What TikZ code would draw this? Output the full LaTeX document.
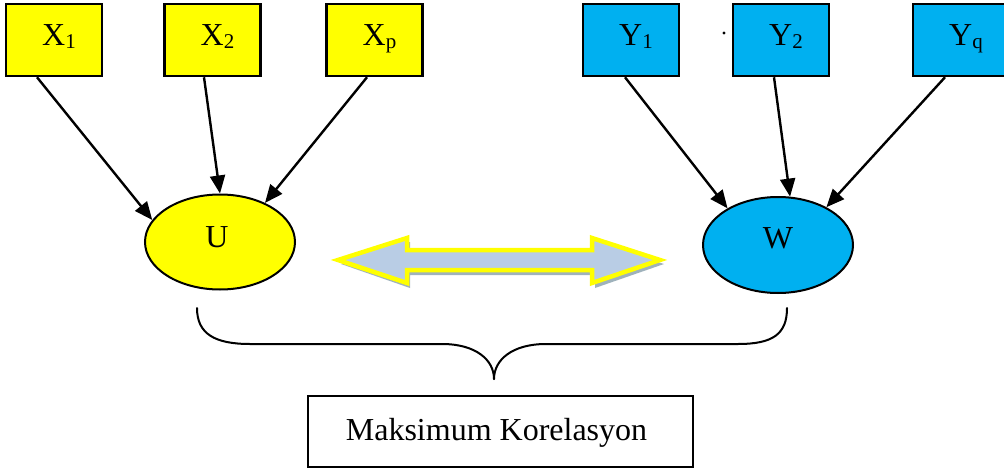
\documentclass[tikz,border=0pt]{standalone}
\usepackage{fontspec}
\setmainfont{Liberation Serif}
\usetikzlibrary{arrows.meta,shapes.geometric}
\definecolor{ylw}{HTML}{FFFF00}
\definecolor{cyn}{HTML}{00B0F0}
\definecolor{arrfill}{HTML}{B9CDE5}
\definecolor{shad}{HTML}{9FB2BC}
\newcommand{\sbs}[1]{\raisebox{-3pt}{\fontsize{21}{21}\selectfont #1}}
\begin{document}
\begin{tikzpicture}[x=1pt,y=-1pt,
  varbox/.style={draw=black, line width=2.5pt, minimum width=96pt, minimum height=72pt, inner sep=0pt},
  xbox/.style={varbox, fill=ylw},
  ybox/.style={varbox, fill=cyn},
  lbl/.style={font=\fontsize{32}{38}\selectfont, inner sep=0pt, anchor=base},
  ell/.style={ellipse, draw=black, line width=2pt, minimum width=150pt, minimum height=95pt, inner sep=0pt},
  conn/.style={line width=2.4pt, -{Triangle[length=18pt,width=15pt]}},
  bracestyle/.style={line width=2pt, line cap=round},
]
\useasboundingbox (0,0) rectangle (1004,471);

% top boxes
\node[xbox] (x1) at (54,40) {};
\node[xbox] (x2) at (212.5,40) {};
\node[xbox] (xp) at (374.5,40) {};
\node[ybox] (y1) at (631,40) {};
\node[ybox] (y2) at (781,40) {};
\node[ybox] (yq) at (961,40) {};

\node[lbl] (x1t) at ([xshift=5pt,yshift=-5.5pt]x1.center) {X\sbs{1}};
\node[lbl] (x2t) at ([xshift=5pt,yshift=-5.5pt]x2.center) {X\sbs{2}};
\node[lbl] (xpt) at ([xshift=5pt,yshift=-5.5pt]xp.center) {X\sbs{p}};
\node[lbl] (y1t) at ([xshift=5pt,yshift=-5.5pt]y1.center) {Y\sbs{1}};
\node[lbl] (y2t) at ([xshift=5pt,yshift=-5.5pt]y2.center) {Y\sbs{2}};
\node[lbl] (yqt) at ([xshift=5pt,yshift=-5.5pt]yq.center) {Y\sbs{q}};

\fill (724,33) circle (1.6pt);

% ellipses
\node[ell, fill=ylw] (u) at (220,242) {};
\node[ell, fill=cyn, minimum height=96pt] (w) at (778,245) {};
\node[lbl] (ut) at ([xshift=-3pt,yshift=-5pt]u.center) {U};
\node[lbl] (wt) at ([yshift=-3pt]w.center) {W};

% connectors
\draw[conn] ([xshift=-17pt]x1.south) -- (u.162);
\draw[conn] ([xshift=-8.5pt]x2.south) -- (u.90);
\draw[conn] ([xshift=-7.5pt]xp.south) -- (u.41);
\draw[conn] ([xshift=-6pt]y1.south) -- (w.144);
\draw[conn] ([xshift=-7pt]y2.south) -- (w.76);
\draw[conn] ([xshift=-16pt]yq.south) -- (w.38);

% double arrow with shadow
\fill[shad] (341,264) -- (410,242) -- (410,254) -- (595,254) -- (595,242) -- (664,264)
  -- (595,288) -- (595,275) -- (410,275) -- (410,288) -- cycle;
\filldraw[fill=arrfill, draw=ylw, line width=4.5pt, line join=miter]
  (338,260) -- (407,238) -- (407,250) -- (592,250) -- (592,238) -- (660,260)
  -- (592,283) -- (592,270) -- (407,270) -- (407,283) -- cycle;

% brace
\draw[bracestyle] (197,308) .. controls (197,334) and (215,344) .. (250,344)
  -- (442,344) .. controls (476,344) and (494,360) .. (494,379);
\draw[bracestyle] (494,379) .. controls (494,360) and (512,344) .. (546,344)
  -- (738,344) .. controls (773,344) and (787,334) .. (787,308);

% bottom box
\node[draw=black, line width=2pt, minimum width=385pt, minimum height=71pt, inner sep=0pt] (mk) at (500.5,431.5) {};
\node[lbl] (mkt) at ([xshift=-4pt,yshift=-8.5pt]mk.center) {Maksimum Korelasyon};
\end{tikzpicture}
\end{document}
